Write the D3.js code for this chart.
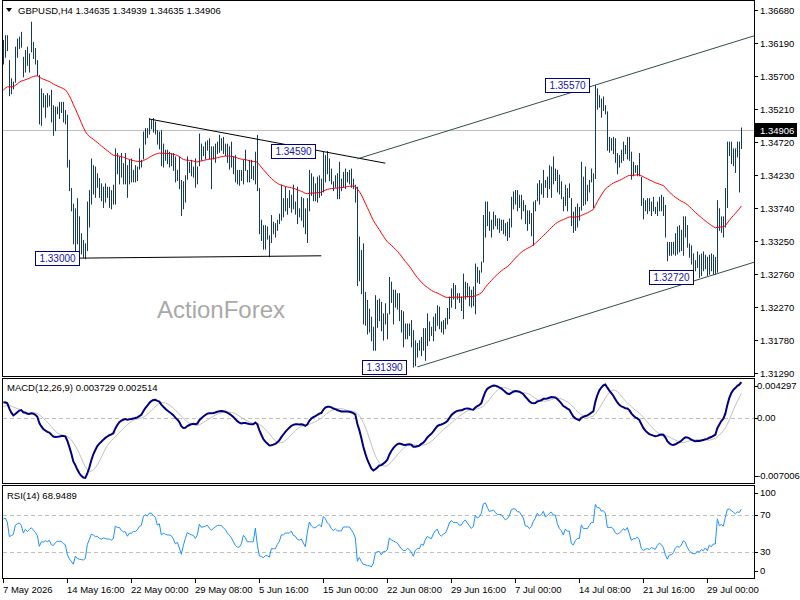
<!DOCTYPE html>
<html>
<head>
<meta charset="utf-8">
<title>GBPUSD,H4</title>
<script src="https://cdn.jsdelivr.net/npm/d3@7/dist/d3.min.js"></script>
<style>
  body { margin: 0; background: #fff; }
  svg { display: block; }
  text { font-family: "Liberation Sans", Arial, sans-serif; font-size: 9.5px; fill: #000; }
</style>
</head>
<body>
<svg id="chart" width="800" height="600"></svg>
<script>
// H4 bars, 7 May 08:00 .. 31 Jul, prices in pips above 1.30000
const PIP_BASE = 1.3;
const highs = [
  624,631,631,594,567,562,614,626,629,636, 599,609,614,604,651,621,612,594,572,552,
  545,542,545,542,550,527,525,525,532,532, 532,520,513,446,404,381,374,389,362,337,
  327,322,384,401,448,438,436,426,419,411, 406,411,406,406,401,409,463,456,451,456,
  441,456,438,446,448,431,438,436,463,446, 488,493,493,508,505,508,503,490,488,490,
  470,461,461,458,456,456,451,431,451,416, 414,423,451,443,446,436,448,436,485,470,
  466,473,475,478,466,466,470,473,483,478, 480,470,470,466,473,451,453,431,431,431,
  446,461,431,446,446,437,458,483,404,357, 349,349,347,334,364,354,352,357,366,409,
  389,406,389,401,394,409,384,406,374,391, 389,374,389,431,426,421,411,421,423,418,
  458,453,459,448,433,414,423,426,443,418, 428,433,428,431,433,418,409,406,332,312,
  322,250,238,225,213,198,245,238,240,235, 218,233,218,272,265,253,253,248,248,223,
  221,203,203,203,208,193,178,174,178,183, 196,196,218,206,198,213,218,230,228,206,
  208,211,226,243,255,263,260,248,248,243, 277,265,263,258,253,258,292,287,282,295,
  364,384,384,369,357,369,364,359,359,357, 357,352,354,359,391,399,401,401,394,394,
  386,379,371,371,367,384,386,411,416,411, 431,416,421,438,436,451,433,431,424,414,
  391,409,404,411,389,369,376,381,376,443, 421,436,409,416,433,426,557,552,542,537,
  540,527,518,480,478,480,478,456,453,461, 473,468,480,480,458,443,438,438,456,421,
  389,386,389,389,384,391,376,384,391,394, 391,379,324,324,324,324,337,347,349,342,
  362,362,349,322,319,307,297,310,305,307, 310,305,302,305,307,305,302,386,374,362,
  362,404,473,473,473,463,463,473,473,493.9
];
const lows = [
  589,599,609,542,545,552,562,599,612,614, 570,577,587,577,607,597,589,572,500,498,
  525,510,525,527,503,483,490,515,508,517, 503,500,436,401,371,322,312,322,312,307,
  302,300,312,347,381,396,391,406,391,386, 376,384,391,376,374,381,381,426,411,421,
  411,411,391,411,414,414,414,416,433,436, 448,470,480,485,493,488,485,470,463,438,
  436,446,441,436,438,431,414,416,404,364, 374,384,418,428,423,421,406,411,438,446,
  453,448,461,448,404,448,443,456,458,461, 456,453,443,433,436,426,414,411,409,416,
  411,431,414,414,419,417,411,401,337,327, 314,314,329,303,324,337,332,342,352,357,
  362,371,366,376,369,374,366,352,362,357, 347,337,324,371,394,386,386,384,391,394,
  399,414,426,416,411,401,406,389,389,401, 406,404,414,411,406,404,384,260,267,248,
  203,201,188,191,178,164,164,198,208,193, 179,203,181,218,235,203,228,225,208,191,
  169,181,181,186,169,139,141,154,164,156, 164,149,171,178,186,178,193,201,196,191,
  188,196,203,211,228,240,226,240,235,223, 211,240,243,230,228,230,218,265,263,280,
  295,332,349,342,332,344,349,344,339,342, 337,334,327,332,347,374,381,371,376,359,
  371,352,342,352,334,320,371,386,381,396, 391,406,391,404,391,411,416,399,396,389,
  371,379,371,391,349,339,342,347,357,372, 379,381,386,399,414,376,419,522,525,510,
  520,515,461,458,461,456,443,426,436,443, 446,456,448,446,418,423,428,423,423,379,
  359,371,367,371,364,371,367,364,371,371, 364,332,297,305,305,307,305,307,310,312,
  305,332,317,302,292,282,282,287,272,275, 282,285,275,277,282,277,277,280,342,339,
  332,347,376,453,441,438,428,451,399,463.5
];
const closes = [
  620,625,612,550,555,560,610,620,625,615, 580,600,590,600,610,600,590,575,510,530,
  530,535,530,535,510,505,515,520,520,520, 510,505,445,404,375,330,360,330,320,315,
  310,315,370,395,425,420,410,412,400,395, 400,398,395,395,390,395,445,440,440,430,
  425,425,410,420,420,425,425,430,440,444, 478,488,485,500,500,495,492,475,480,450,
  455,452,450,450,448,440,425,428,410,380, 400,420,440,435,432,430,420,430,470,460,
  462,465,468,460,455,460,465,470,470,470, 465,462,455,450,445,435,425,420,420,425,
  440,435,425,425,425,425,450,405,345,340, 330,335,335,325,345,345,345,355,362,380,
  380,385,385,385,390,380,378,370,368,370, 360,350,380,415,405,400,400,405,410,405,
  445,440,430,425,415,410,415,410,410,410, 420,420,420,420,415,410,400,290,300,260,
  220,215,200,200,180,190,220,225,225,200, 210,210,215,255,245,240,235,230,215,200,
  190,190,195,190,175,150,165,170,168,180, 175,190,200,195,192,205,215,220,205,200,
  205,208,220,240,250,245,245,245,240,240, 250,255,250,245,240,245,280,275,280,295,
  360,370,360,350,355,360,355,350,350,350, 345,340,345,355,385,390,390,385,385,380,
  375,360,360,355,360,375,385,405,400,405, 420,410,415,425,430,425,425,410,400,395,
  385,400,395,395,360,355,365,370,370,410, 400,400,400,410,420,420,540,530,530,520,
  525,518,470,470,470,465,450,445,450,455, 465,460,470,450,425,430,430,435,425,385,
  375,378,380,375,380,375,372,380,385,380, 370,335,305,315,315,320,330,335,330,335,
  345,340,320,305,295,290,290,295,290,295, 290,295,285,295,290,295,295,370,350,355,
  350,395,460,465,460,455,450,465,463.5,490.6
];

const symbolName = "GBPUSD,H4";
const priceTicks = [1.36680, 1.36190, 1.35700, 1.35210, 1.34720, 1.34230, 1.33740, 1.33250, 1.32760, 1.32270, 1.31780, 1.31290];
const timeLabels = ["7 May 2026", "14 May 16:00", "22 May 00:00", "29 May 08:00", "5 Jun 16:00", "15 Jun 00:00",
  "22 Jun 08:00", "29 Jun 16:00", "7 Jul 00:00", "14 Jul 08:00", "21 Jul 16:00", "29 Jul 00:00"];
const barsPerLabel = 32;

// indicator state just before the first visible bar
const emaPeriod = 55, emaPrev = 1.3547;
const macdFastPrev = 1.3603, macdSlowPrev = 1.3586;
const macdPrevHistory = [0.0011, 0.0011, 0.0012, 0.0012, 0.0012, 0.0013, 0.0013, 0.0014];
const rsiPrev = { gain: 0.0009, loss: 0.00055, close: 1.3600 };

const macdTicks = [0.004297, 0, -0.007006];
const macdTickText = ["0.004297", "0.00", "-0.007006"];
const macdLegend = "MACD(12,26,9) 0.003729 0.002514";
const rsiTicks = [100, 70, 30, 0];
const rsiLevels = [70, 30];
const rsiLegend = "RSI(14) 68.9489";

// hand drawn objects: [bar index, price]
const trendLines = [
  { from: [73, 1.35066], to: [191, 1.34410], color: "#000", ray: false },
  { from: [37, 1.33000], to: [159, 1.33035], color: "#000", ray: false },
  { from: [177, 1.34474], to: [296, 1.35570], color: "#2f4f4f", ray: true },
  { from: [207, 1.31385], to: [348, 1.32687], color: "#2f4f4f", ray: true }
];
const priceNotes = [
  { k: 37.8, price: 1.33000 }, { k: 155.8, price: 1.34590 }, { k: 201.3, price: 1.31390 },
  { k: 292.8, price: 1.35570 }, { k: 344.8, price: 1.32720 }
];

// ---------- derived series ----------
const px = v => PIP_BASE + v / 10000;
const bars = highs.map((h, i) => ({ i, high: px(h), low: px(lows[i]), close: px(closes[i]) }));
const cl = bars.map(d => d.close);

function ema(values, period, prev) {
  const a = 2 / (period + 1);
  return values.map(v => (prev = prev + a * (v - prev)));
}
const ma = ema(cl, emaPeriod, emaPrev);
const fast = ema(cl, 12, macdFastPrev), slow = ema(cl, 26, macdSlowPrev);
const macd = fast.map((v, i) => v - slow[i]);
const macdAll = macdPrevHistory.concat(macd);
const signal = macd.map((v, i) => d3.mean(macdAll.slice(i, i + 9)));
let g = rsiPrev.gain, l = rsiPrev.loss, pc = rsiPrev.close;
const rsi = cl.map(c => {
  const d = c - pc; pc = c;
  g = (g * 13 + Math.max(d, 0)) / 14;
  l = (l * 13 + Math.max(-d, 0)) / 14;
  return 100 - 100 / (1 + g / l);
});

// ---------- layout ----------
const svg = d3.select("#chart");
const left = 3, right = 754;
const main = { top: 1, bottom: 376 }, mp = { top: 379, bottom: 483 }, rp = { top: 486, bottom: 578 };

const x = d3.scaleLinear().domain([0, bars.length - 1]).range([3.33, 741.33]);
const yMain = d3.scaleLinear().domain([1.31250, 1.36833]).range([376, 0]);
const yMacd = d3.scaleLinear().domain([-0.007006, 0.004297]).range([482, 379]);
const yRsi = d3.scaleLinear().domain([0, 100]).range([579.2, 487.5]);
const cx = i => Math.round(x(i)) + 0.5;

const defs = svg.append("defs");
[["clipMain", main], ["clipMacd", mp], ["clipRsi", rp]].forEach(([id, p]) => {
  defs.append("clipPath").attr("id", id).append("rect")
    .attr("x", left).attr("y", p.top).attr("width", right - left).attr("height", p.bottom - p.top);
});

// ---------- main panel ----------
const gMain = svg.append("g").attr("clip-path", "url(#clipMain)");
const last = bars[bars.length - 1];
const yLast = Math.round(yMain(last.close)) + 0.5;
gMain.append("line").attr("x1", left).attr("x2", right).attr("y1", yLast).attr("y2", yLast)
  .attr("stroke", "#c0c0c0");

svg.append("text").attr("x", 157).attr("y", 318).style("font-size", "24px").style("fill", "#a9a9a9")
  .text("ActionForex");

gMain.selectAll("line.bar").data(bars).join("line").attr("class", "bar")
  .attr("x1", d => cx(d.i)).attr("x2", d => cx(d.i))
  .attr("y1", d => yMain(d.high)).attr("y2", d => yMain(d.low) + 1)
  .attr("stroke", "#143c5a").attr("stroke-width", 1);

gMain.append("path").datum(ma)
  .attr("d", d3.line().x((d, i) => x(i)).y(d => yMain(d)))
  .attr("fill", "none").attr("stroke", "#ff0000").attr("stroke-width", 1);

trendLines.forEach(t => {
  const slope = (t.to[1] - t.from[1]) / (t.to[0] - t.from[0]);
  const kEnd = t.ray ? x.invert(right + 5) : t.to[0];
  gMain.append("line")
    .attr("x1", x(t.from[0])).attr("y1", yMain(t.from[1]))
    .attr("x2", x(kEnd)).attr("y2", yMain(t.from[1] + slope * (kEnd - t.from[0])))
    .attr("stroke", t.color).attr("stroke-width", 1);
});

const fmt5 = d3.format(".5f");
priceNotes.forEach(n => {
  const xr = Math.round(x(n.k)) + 0.5, yc = Math.round(yMain(n.price));
  gMain.append("rect").attr("x", xr - 44).attr("y", yc - 6.5).attr("width", 44).attr("height", 14)
    .attr("fill", "#fff").attr("stroke", "#000080");
  gMain.append("text").attr("x", xr - 22).attr("y", yc + 4).attr("text-anchor", "middle")
    .style("fill", "#1515a8").style("font-size", "10px").text(fmt5(n.price));
});

// header
svg.append("path").attr("d", "M6,8 L12,8 L9,12 Z").attr("fill", "#000");
const prevClose = bars[bars.length - 2].close;
svg.append("text").attr("x", 18).attr("y", 14)
  .text(`${symbolName}  ${fmt5(prevClose)} ${fmt5(last.high)} ${fmt5(last.low)} ${fmt5(last.close)}`);

// right price axis
const axisR = svg.append("g");
priceTicks.forEach(p => {
  const y = Math.round(yMain(p)) + 0.5;
  axisR.append("line").attr("x1", right).attr("x2", right + 4).attr("y1", y).attr("y2", y).attr("stroke", "#000");
  axisR.append("text").attr("x", 760).attr("y", y).attr("dy", "0.35em").text(fmt5(p));
});
axisR.append("rect").attr("x", 755).attr("y", yLast - 7.5).attr("width", 42).attr("height", 14).attr("fill", "#000");
axisR.append("text").attr("x", 760).attr("y", yLast).attr("dy", "0.35em").style("fill", "#fff").text(fmt5(last.close));

// ---------- MACD panel ----------
const gM = svg.append("g").attr("clip-path", "url(#clipMacd)");
gM.append("line").attr("x1", left).attr("x2", right).attr("y1", Math.round(yMacd(0)) + 0.5).attr("y2", Math.round(yMacd(0)) + 0.5)
  .attr("stroke", "#c0c0c0").attr("stroke-dasharray", "4,3");
gM.append("path").datum(signal).attr("d", d3.line().x((d, i) => x(i)).y(d => yMacd(d)))
  .attr("fill", "none").attr("stroke", "#c0c0c0").attr("stroke-width", 1);
gM.append("path").datum(macd).attr("d", d3.line().x((d, i) => x(i)).y(d => yMacd(d)))
  .attr("fill", "none").attr("stroke", "#000080").attr("stroke-width", 2);
svg.append("text").attr("x", 7).attr("y", 391).text(macdLegend);
macdTicks.forEach((v, i) => {
  const y = Math.max(mp.top + 7, Math.min(mp.bottom - 7, yMacd(v)));
  svg.append("line").attr("x1", right).attr("x2", right + 4).attr("y1", Math.round(y) + 0.5).attr("y2", Math.round(y) + 0.5).attr("stroke", "#000");
  svg.append("text").attr("x", 757).attr("y", y).attr("dy", "0.35em").text(macdTickText[i]);
});

// ---------- RSI panel ----------
const gR = svg.append("g").attr("clip-path", "url(#clipRsi)");
rsiLevels.forEach(v => {
  const y = Math.round(yRsi(v)) + 0.5;
  gR.append("line").attr("x1", left).attr("x2", right).attr("y1", y).attr("y2", y)
    .attr("stroke", "#c0c0c0").attr("stroke-dasharray", "4,3");
});
gR.append("path").datum(rsi).attr("d", d3.line().x((d, i) => x(i)).y(d => yRsi(d)))
  .attr("fill", "none").attr("stroke", "#1e90ff").attr("stroke-width", 1);
svg.append("text").attr("x", 7).attr("y", 499).text(rsiLegend);
rsiTicks.forEach(v => {
  const y = Math.max(rp.top + 7, Math.min(rp.bottom - 7, yRsi(v)));
  svg.append("line").attr("x1", right).attr("x2", right + 4).attr("y1", Math.round(y) + 0.5).attr("y2", Math.round(y) + 0.5).attr("stroke", "#000");
  svg.append("text").attr("x", 760).attr("y", y).attr("dy", "0.35em").text(v);
});

// ---------- frames ----------
[[main.top - 0.5, main.bottom + 0.5], [mp.top - 0.5, mp.bottom + 0.5], [rp.top - 0.5, rp.bottom + 0.5]].forEach(([t, b]) => {
  svg.append("rect").attr("x", left - 0.5).attr("y", t).attr("width", right - left + 1).attr("height", b - t)
    .attr("fill", "none").attr("stroke", "#000");
});

// ---------- time axis ----------
timeLabels.forEach((s, j) => {
  const xx = cx(j * barsPerLabel);
  svg.append("line").attr("x1", xx).attr("x2", xx).attr("y1", rp.bottom + 1).attr("y2", rp.bottom + 5).attr("stroke", "#000");
  svg.append("text").attr("x", xx - 0.5).attr("y", 593).text(s);
});
</script>
</body>
</html>
